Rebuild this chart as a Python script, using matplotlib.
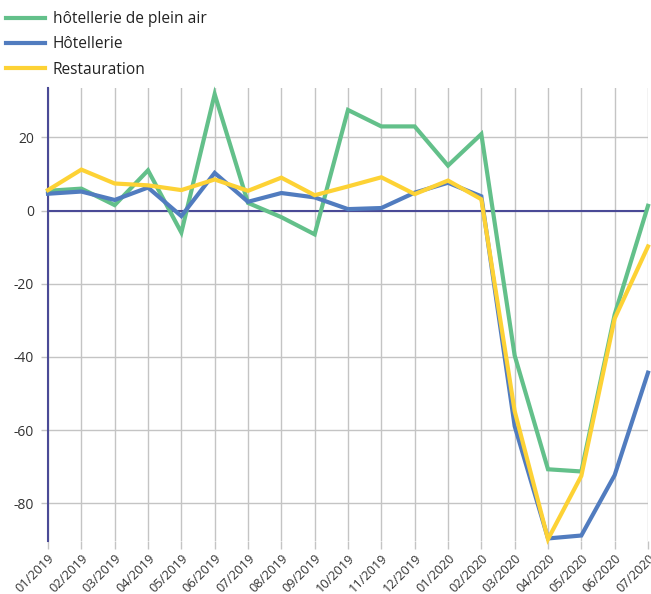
import matplotlib
matplotlib.use("Agg")
import matplotlib.pyplot as plt
from matplotlib.lines import Line2D

months = ["01/2019", "02/2019", "03/2019", "04/2019", "05/2019", "06/2019",
          "07/2019", "08/2019", "09/2019", "10/2019", "11/2019", "12/2019",
          "01/2020", "02/2020", "03/2020", "04/2020", "05/2020", "06/2020", "07/2020"]
plein_air = [5.4, 6.0, 1.5, 11.0, -6.0, 31.8, 2.1, -1.8, -6.5, 27.5, 23.0, 23.0,
             12.3, 20.9, -39.6, -70.7, -71.3, -28.4, 1.3]
hotellerie = [4.6, 5.2, 2.9, 6.3, -1.5, 10.3, 2.4, 4.8, 3.6, 0.4, 0.7, 4.9,
              7.6, 3.9, -58.9, -89.6, -88.8, -72.3, -44.3]
restauration = [5.6, 11.2, 7.4, 6.9, 5.6, 8.5, 5.4, 9.0, 4.2, 6.6, 9.1, 4.5,
                8.2, 3.1, -54.8, -89.8, -72.5, -29.5, -9.8]
series_names = ["hôtellerie de plein air", "Hôtellerie", "Restauration"]
yticks = [-80, -60, -40, -20, 0, 20]

colors = ["#63c08a", "#517cbf", "#fdd235"]
navy = "#4a4a96"
grid_c = "#c4c4c4"

plt.rcParams['font.family'] = ['Open Sans', 'DejaVu Sans']

fig = plt.figure(figsize=(6.51, 5.94), dpi=100)
ax = fig.add_axes([48/651, 1-541/594, 600/651, (541-88)/594])

x = list(range(len(months)))
for vals, c, name in zip([plein_air, hotellerie, restauration], colors, series_names):
    ax.plot(x, vals, color=c, lw=3, solid_joinstyle='miter', clip_on=False, zorder=3, label=name)

ax.set_xlim(0, len(months)-1)
ax.set_ylim(-90.3, 33.5)
ax.set_xticks(x)
ax.set_xticklabels(months, rotation=45, ha='right', rotation_mode='anchor', fontsize=9.2, color='#333333')
ax.set_yticks(yticks)
ax.set_yticklabels([str(v) for v in yticks], fontsize=10, color='#333333')
ax.tick_params(axis='x', length=6, color=grid_c, width=1, pad=2)
ax.tick_params(axis='y', length=5, color=grid_c, width=1, pad=5)
ax.grid(True, color=grid_c, lw=1, zorder=0)
ax.set_axisbelow(True)
for s in ['top', 'right', 'bottom']:
    ax.spines[s].set_visible(False)
ax.spines['left'].set_color(navy)
ax.spines['left'].set_linewidth(1.5)
ax.axhline(0, color=navy, lw=1.5, zorder=2)

handles = [Line2D([0], [0], color=c, lw=3) for c in colors]
fig.legend(handles, series_names, loc='upper left', bbox_to_anchor=(6/651, 1-11/594),
           frameon=False, fontsize=11.2, handlelength=2.5, handletextpad=0.5,
           labelspacing=0.6, borderaxespad=0.0, borderpad=0.0, labelcolor='#222222')

fig.savefig("out.png", dpi=100)
